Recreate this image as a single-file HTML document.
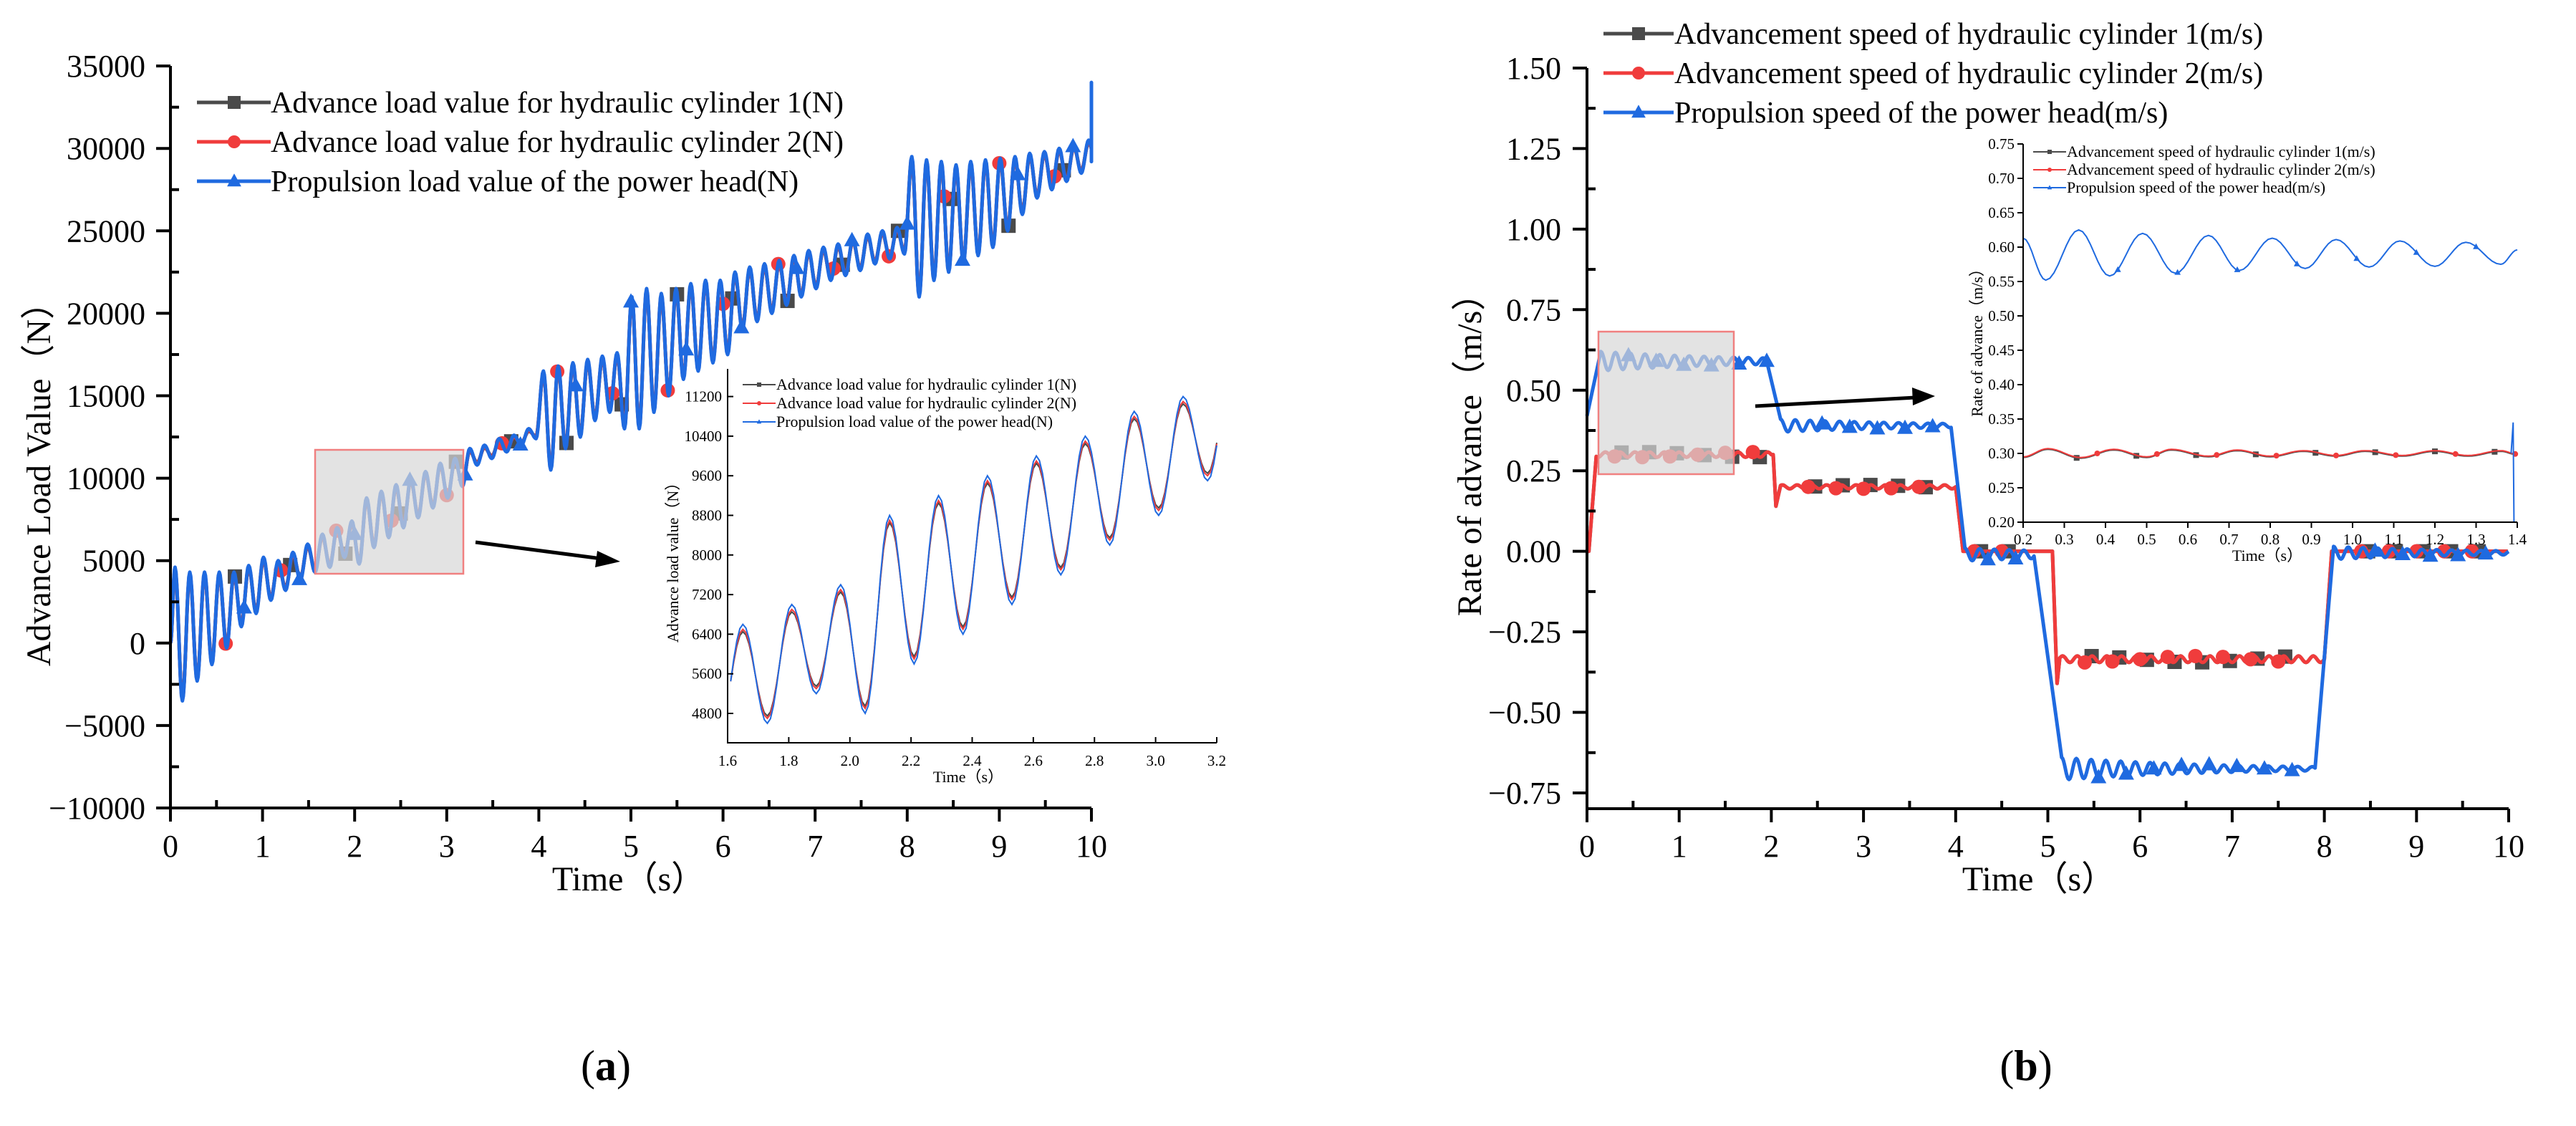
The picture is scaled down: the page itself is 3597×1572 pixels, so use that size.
<!DOCTYPE html>
<html><head><meta charset="utf-8">
<style>
html,body{margin:0;padding:0;background:#fff;}
svg{display:block;font-family:"Liberation Serif",serif;}
</style></head>
<body>
<svg id="fig" width="3597" height="1572" viewBox="0 0 3597 1572" xmlns="http://www.w3.org/2000/svg">
<rect width="3597" height="1572" fill="#fff"/>
<g id="gA"></g>
<g id="gB"></g>
<text x="846" y="1508" font-size="60" text-anchor="middle">(<tspan font-weight="bold">a</tspan>)</text>
<text x="2829" y="1508" font-size="60" text-anchor="middle">(<tspan font-weight="bold">b</tspan>)</text>
</svg>
<script>
// ===== Chart (a) data: load extrema (N) =====
const loadPeakT0 = 0.05, loadTroughT0 = 0.13, loadPeriod = 0.16;
const headPeaks = [4600,4300,4300,4300,4300,4700,5200,5000,5500,6000,
 6600,7000,7400,8800,9200,9600,10000,10400,10900,11200,
 11800,12000,12400,12600,13000,
 16500,16800,17000,17200,17400,17600,
 21000,21500,21200,21500,21800,22000,22000,
 22500,22800,23000,23200,23500,23800,24000,24200,24500,
 24800,25000,25200,
 29500,29300,29200,29000,29200,29300,29400,29500,29700,29800,30000,30200,30500];
const headTroughs = [-3500,-2300,-1300,-300,1000,1800,2600,3200,3800,4300,
 4600,5200,4800,5800,6400,7000,7600,8200,8800,9500,
 10800,11200,11600,12000,12400,
 10500,11800,12500,13500,14000,13000,
 13000,14000,15000,16000,16500,17000,17500,
 19000,19500,20000,20500,21000,21500,22000,22300,22600,
 23000,23300,23600,
 21000,22000,22500,23000,23500,24000,25000,26000,27000,27500,28000,28500,29000];
const loadStart = 0, loadEndSpike = 34000, loadEnd = 29200;
const cyl1Offsets = [-150, 150];
const cyl2Offsets = [-100, 100];
const loadYTicks = [-10000,-5000,0,5000,10000,15000,20000,25000,30000,35000];
const timeTicks = [0,1,2,3,4,5,6,7,8,9,10];
const insetATicksX = [1.6,1.8,2.0,2.2,2.4,2.6,2.8,3.0,3.2];
const insetATicksY = [4800,5600,6400,7200,8000,8800,9600,10400,11200];
const loadMarkerTimes = [0.6,1.2,1.8,2.4,3.0,3.6,4.2,4.8,5.4,6.0,6.6,7.2,7.8,8.4,9.0,9.6];
const markerShift = [0.1,0.0,0.2];

// ===== Chart (b) data: speed segments (m/s) =====
const segStart = [0.15,2.1,4.1,5.15,8.1];
const segEnd   = [1.95,3.95,4.85,7.9,10.0];
const blueLevel = [0.59,0.39,-0.01,-0.675,-0.005];
const blueAmp   = [0.03,0.02,0.02,0.035,0.02];
const redLevel  = [0.30,0.20,0.00,-0.335,0.00];
const redAmp    = [0.008,0.006,0.0,0.01,0.0];
const redSteps  = [0.02,2.02,4.0,5.05,8.0];
const speedYTicks = [-0.75,-0.5,-0.25,0,0.25,0.5,0.75,1.0,1.25,1.5];
const insetBT = [0.2,0.255,0.335,0.41,0.49,0.57,0.65,0.725,0.805,0.885,0.96,1.04,1.115,1.2,1.275,1.36,1.4];
const insetBV = [0.613,0.552,0.625,0.558,0.62,0.562,0.617,0.566,0.613,0.569,0.611,0.571,0.609,0.572,0.607,0.575,0.596];
const insetRT = [0.2,0.26,0.34,0.42,0.5,0.56,0.65,0.72,0.8,0.88,0.96,1.03,1.12,1.2,1.28,1.36,1.4];
const insetRV = [0.295,0.307,0.294,0.306,0.295,0.306,0.296,0.305,0.296,0.304,0.297,0.304,0.297,0.304,0.297,0.304,0.299];
const insetBTicksX = [0.2,0.3,0.4,0.5,0.6,0.7,0.8,0.9,1.0,1.1,1.2,1.3,1.4];
const insetBTicksY = [0.20,0.25,0.30,0.35,0.40,0.45,0.50,0.55,0.60,0.65,0.70,0.75];
const speedMarkerTimes = [0.3,0.6,0.9,1.2,1.5,1.8,2.4,2.7,3.0,3.3,3.6,4.2,4.5,5.4,5.7,6.0,6.3,6.6,6.9,7.2,7.5,8.4,8.7,9.0,9.3,9.6];

const NS="http://www.w3.org/2000/svg";
function mk(parent, tag, attrs){const e=document.createElementNS(NS,tag);for(const k in attrs)e.setAttribute(k,attrs[k]);parent.appendChild(e);return e;}
const BLUE="#1f6ae0", RED="#f03c3c", GREY="#4a4a4a";

const xA=t=>238+128.6*t, yA=v=>1128-(v+10000)*0.02302;
const xB=t=>2216+128.7*t, yB=v=>1107-(v+0.75)*449.8;
const xIA=t=>1016+(t-1.6)*(683/1.6), yIA=v=>996-(v-4800)*55.3/800;
const xIB=t=>2825+(t-0.2)*(690/1.2), yIB=v=>729-(v-0.2)*(528/0.55);

function loadExtrema(off){
  const pts=[[0,loadStart]];
  for(let k=0;k<headPeaks.length;k++){
    pts.push([loadPeakT0+k*loadPeriod, headPeaks[k]+off[0]]);
    pts.push([loadTroughT0+k*loadPeriod, headTroughs[k]+off[1]]);
  }
  pts.push([10,loadEnd]);
  return pts;
}
function smoothPts(ext){
  const out=[];
  for(let i=0;i<ext.length-1;i++){
    const [t0,v0]=ext[i],[t1,v1]=ext[i+1];
    for(let s=0;s<8;s++){const u=s/8;const w=(1-Math.cos(Math.PI*u))/2;out.push([t0+(t1-t0)*u,v0+(v1-v0)*w]);}
  }
  out.push(ext[ext.length-1]);
  return out;
}
function valAt(pts,t){for(let i=0;i<pts.length-1;i++){if(pts[i][0]<=t&&pts[i+1][0]>=t){const u=(t-pts[i][0])/((pts[i+1][0]-pts[i][0])||1);return pts[i][1]+(pts[i+1][1]-pts[i][1])*u;}}return pts[pts.length-1][1];}
function pathD(pts,fx,fy,tmin,tmax){let d="";let first=true;for(const [t,v] of pts){if(t<tmin||t>tmax)continue;d+=(first?"M":"L")+fx(t).toFixed(1)+","+fy(v).toFixed(1);first=false;}return d;}
function marker(g,type,x,y,color,s){
  if(type==="sq"){const m=mk(g,"rect",{x:x-s,y:y-s,width:2*s,height:2*s,fill:color});}
  else if(type==="ci"){const m=mk(g,"circle",{cx:x,cy:y,r:s,fill:color});}
  else{const m=mk(g,"polygon",{points:`${x},${y-s*1.2} ${x-s*1.1},${y+s*0.8} ${x+s*1.1},${y+s*0.8}`,fill:color});}
}
function txt(g,x,y,s,size,anchor,rot){const e=mk(g,"text",{x:x,y:y,"font-size":size,"text-anchor":anchor||"start"});if(rot)e.setAttribute("transform",`rotate(-90 ${x} ${y})`);e.textContent=s;return e;}

// ================= Chart A =================
const gA=document.getElementById("gA");
const headPts=smoothPts(loadExtrema([0,0]));
const c1Pts=smoothPts(loadExtrema(cyl1Offsets));
const c2Pts=smoothPts(loadExtrema(cyl2Offsets));
headPts.push([10,loadEndSpike]);headPts.push([10,loadEnd]);
const seriesA=[[c1Pts,GREY,"cyl1-load-line","sq"],[c2Pts,RED,"cyl2-load-line","ci"],[headPts,BLUE,"head-load-line","tr"]];
seriesA.forEach(([pts,col,name,mt],si)=>{
  const p=mk(gA,"path",{d:pathD(pts,xA,yA,0,10),fill:"none",stroke:col,"stroke-width":5,"stroke-linejoin":"round"});
  
  
  for(const t0 of loadMarkerTimes){const t=t0+markerShift[si];if(t<10)marker(gA,mt,xA(t),yA(valAt(pts,t)),col,10);}
});
const rA=mk(gA,"rect",{x:440,y:628,width:207,height:173,fill:"rgba(215,215,215,0.7)",stroke:"#f08080","stroke-width":2.5});


const arA=mk(gA,"path",{d:"M664,757 L840,780",stroke:"#000","stroke-width":5,fill:"none"});


const ahA=mk(gA,"polygon",{points:"866,784 834,769 831,792",fill:"#000"});


const axA=mk(gA,"path",{d:"M238,92 L238,1128 L1524,1128",fill:"none",stroke:"#000","stroke-width":4});


for(const v of loadYTicks){
  mk(gA,"line",{x1:218,x2:238,y1:yA(v),y2:yA(v),stroke:"#000","stroke-width":4});
  if(v<35000)mk(gA,"line",{x1:238,x2:250,y1:yA(v+2500),y2:yA(v+2500),stroke:"#000","stroke-width":4});
  const t=txt(gA,203,yA(v)+15,v<0?"\u2212"+Math.abs(v):String(v),44,"end");
  
  
}
for(const tk of timeTicks){
  mk(gA,"line",{x1:xA(tk),x2:xA(tk),y1:1128,y2:1147,stroke:"#000","stroke-width":4});
  if(tk<10)mk(gA,"line",{x1:xA(tk+0.5),x2:xA(tk+0.5),y1:1117,y2:1128,stroke:"#000","stroke-width":4});
  const t=txt(gA,xA(tk),1196,String(tk),44,"middle");
  
  
}
let tt=txt(gA,878,1243,"Time（s）",48,"middle");


tt=txt(gA,70,664,"Advance Load Value（N）",48,"middle",true);


const legA=[["Advance load value for hydraulic cylinder 1(N)",GREY,"sq"],["Advance load value for hydraulic cylinder 2(N)",RED,"ci"],["Propulsion load value of the power head(N)",BLUE,"tr"]];
legA.forEach((L,i)=>{const y=143+i*55;
  const g=mk(gA,"g",{});
  
  
  mk(g,"line",{x1:275,x2:378,y1:y,y2:y,stroke:L[1],"stroke-width":5});marker(g,L[2],327,y,L[1],9);
  txt(g,378,y+14,L[0],42,"start");});

const iA=mk(gA,"g",{});


for(const [pts,col,name] of seriesA){
  const p=mk(iA,"path",{d:pathD(pts,xIA,yIA,1.6,3.2),fill:"none",stroke:col,"stroke-width":2});
  
  
}
mk(iA,"path",{d:"M1016,515 L1016,1037 L1699,1037",fill:"none",stroke:"#000","stroke-width":2});
for(const v of insetATicksY){mk(iA,"line",{x1:1016,x2:1024,y1:yIA(v),y2:yIA(v),stroke:"#000","stroke-width":2});
  const t=txt(iA,1008,yIA(v)+7,String(v),21,"end");}
for(const v of insetATicksX){mk(iA,"line",{x1:xIA(v),x2:xIA(v),y1:1029,y2:1037,stroke:"#000","stroke-width":2});
  const t=txt(iA,xIA(v),1069,v.toFixed(1),21,"middle");}
tt=txt(iA,1352,1092,"Time（s）",22,"middle");
tt=txt(iA,947,780,"Advance load value（N）",22,"middle",true);
legA.forEach((L,i)=>{const y=537+i*26;
  const g=mk(iA,"g",{});
  
  
  mk(g,"line",{x1:1037,x2:1083,y1:y,y2:y,stroke:L[1],"stroke-width":2});marker(g,L[2],1060,y,L[1],3);
  txt(g,1084,y+7,L[0],22,"start");});

// ================= Chart B =================
const gB=document.getElementById("gB");
function speedPts(levels,amps,lead){
  const pts=[[0,lead]];
  for(let s=0;s<segStart.length;s++){
    for(let t=segStart[s];t<=segEnd[s]+1e-9;t+=0.01){
      const decay=Math.exp(-(t-segStart[s])/1.6);
      pts.push([t,levels[s]+amps[s]*decay*Math.sin(2*Math.PI*(t-segStart[s])/0.16+Math.PI/2)]);
    }
  }
  return pts;
}
const bluePts=speedPts(blueLevel,blueAmp,0.42);
const redPts=[[0,0]];
for(let s=0;s<segStart.length;s++){
  redPts.push([redSteps[s],s===0?0:redLevel[s-1]]);
  if(s===1)redPts.push([redSteps[s]+0.03,0.14]);
  if(s===3)redPts.push([redSteps[s]+0.05,-0.41]);
  const endT=s<segStart.length-1?redSteps[s+1]:10;
  for(let t=redSteps[s]+0.08;t<=endT-0.01;t+=0.01){
    redPts.push([t,redLevel[s]+redAmp[s]*Math.sin(2*Math.PI*t/0.16)]);
  }
}
const c1B=redPts.map(p=>[p[0],p[1]]);
const seriesB=[[c1B,GREY,"cyl1-speed-line","sq"],[redPts,RED,"cyl2-speed-line","ci"],[bluePts,BLUE,"head-speed-line","tr"]];
seriesB.forEach(([pts,col,name,mt],si)=>{
  const p=mk(gB,"path",{d:pathD(pts,xB,yB,0,10),fill:"none",stroke:col,"stroke-width":5,"stroke-linejoin":"round"});
  
  
  for(const t0 of speedMarkerTimes){const t=t0+markerShift[si]*0.75;if(t<10)marker(gB,mt,xB(t),yB(valAt(pts,t)),col,10);}
});
const rB=mk(gB,"rect",{x:2232,y:463,width:189,height:199,fill:"rgba(215,215,215,0.7)",stroke:"#f08080","stroke-width":2.5});


const arB=mk(gB,"path",{d:"M2451,567 L2675,555",stroke:"#000","stroke-width":5,fill:"none"});


const ahB=mk(gB,"polygon",{points:"2702,553 2670,541 2671,566",fill:"#000"});


const axB=mk(gB,"path",{d:"M2216,95 L2216,1129 L3503,1129",fill:"none",stroke:"#000","stroke-width":4});


for(const v of speedYTicks){
  mk(gB,"line",{x1:2196,x2:2216,y1:yB(v),y2:yB(v),stroke:"#000","stroke-width":4});
  if(v<1.5)mk(gB,"line",{x1:2216,x2:2228,y1:yB(v+0.125),y2:yB(v+0.125),stroke:"#000","stroke-width":4});
  const t=txt(gB,2180,yB(v)+15,(v<0?"\u2212":"")+Math.abs(v).toFixed(2),44,"end");
  
  
}
for(const tk of timeTicks){
  mk(gB,"line",{x1:xB(tk),x2:xB(tk),y1:1129,y2:1148,stroke:"#000","stroke-width":4});
  if(tk<10)mk(gB,"line",{x1:xB(tk+0.5),x2:xB(tk+0.5),y1:1118,y2:1129,stroke:"#000","stroke-width":4});
  const t=txt(gB,xB(tk),1196,String(tk),44,"middle");
  
  
}
tt=txt(gB,2847,1243,"Time（s）",48,"middle");


tt=txt(gB,2068,623,"Rate of advance（m/s）",48,"middle",true);


const legB=[["Advancement speed of hydraulic cylinder 1(m/s)",GREY,"sq"],["Advancement speed of hydraulic cylinder 2(m/s)",RED,"ci"],["Propulsion speed of the power head(m/s)",BLUE,"tr"]];
legB.forEach((L,i)=>{const y=47+i*55;
  const g=mk(gB,"g",{});
  
  
  mk(g,"line",{x1:2239,x2:2337,y1:y,y2:y,stroke:L[1],"stroke-width":5});marker(g,L[2],2288,y,L[1],9);
  txt(g,2338,y+14,L[0],42,"start");});

const iB=mk(gB,"g",{});


const insetSeries=[[insetRT,insetRV.map(v=>v-0.001),GREY,"cyl1-speed-inset","sq"],[insetRT,insetRV,RED,"cyl2-speed-inset","ci"],[insetBT,insetBV,BLUE,"head-speed-inset","tr"]];
insetSeries.forEach(([T,V,col,name,mt],si)=>{
  const pts=smoothPts(T.map((t,i)=>[t,V[i]]));
  const p=mk(iB,"path",{d:pathD(pts,xIB,yIB,0.2,1.4),fill:"none",stroke:col,"stroke-width":2});
  
  
  for(let t=0.33+si*0.05;t<1.4;t+=0.145)marker(iB,mt,xIB(t),yIB(valAt(pts,t)),col,4);
});
const spk=mk(iB,"path",{d:`M${xIB(1.385)},${yIB(0.3)} L${xIB(1.39)},${yIB(0.345)} L${xIB(1.392)},${yIB(0.2)}`,stroke:BLUE,"stroke-width":2,fill:"none"});


mk(iB,"path",{d:"M2825,201 L2825,729 L3515,729",fill:"none",stroke:"#000","stroke-width":2});
for(const v of insetBTicksY){mk(iB,"line",{x1:2817,x2:2825,y1:yIB(v),y2:yIB(v),stroke:"#000","stroke-width":2});
  const t=txt(iB,2813,yIB(v)+7,v.toFixed(2),21,"end");}
for(const v of insetBTicksX){mk(iB,"line",{x1:xIB(v),x2:xIB(v),y1:729,y2:737,stroke:"#000","stroke-width":2});
  const t=txt(iB,xIB(v),760,v.toFixed(1),21,"middle");}
tt=txt(iB,3166,783,"Time（s）",22,"middle");
tt=txt(iB,2768,473,"Rate of advance（m/s）",22,"middle",true);
legB.forEach((L,i)=>{const y=212+i*25;
  const g=mk(iB,"g",{});
  
  
  mk(g,"line",{x1:2839,x2:2885,y1:y,y2:y,stroke:L[1],"stroke-width":2});marker(g,L[2],2862,y,L[1],3);
  txt(g,2886,y+7,L[0],22,"start");});
</script>
</body></html>
